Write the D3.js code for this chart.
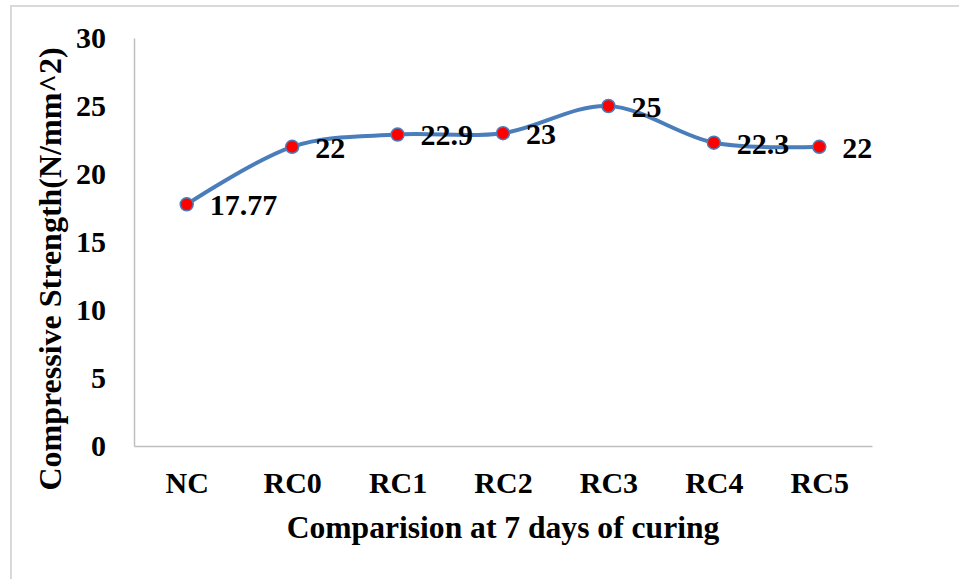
<!DOCTYPE html>
<html>
<head>
<meta charset="utf-8">
<title>Comparision at 7 days of curing</title>
<script src="https://cdn.jsdelivr.net/npm/d3@7"></script>
<style>
  body { margin: 0; background: #fff; }
  svg text { font-family: "Liberation Serif", "Times New Roman", serif; font-weight: 700; fill: #000; }
</style>
</head>
<body>
<svg id="chart" width="959" height="579"></svg>
<script>
  // chart values
  const categories = ["NC", "RC0", "RC1", "RC2", "RC3", "RC4", "RC5"];
  const strength = [17.77, 22, 22.9, 23, 25, 22.3, 22];
  const yTicks = [0, 5, 10, 15, 20, 25, 30];

  const svg = d3.select("#chart");
  const margin = { top: 38, right: 87, bottom: 133, left: 134 };
  const width = +svg.attr("width") - margin.left - margin.right,
    height = +svg.attr("height") - margin.top - margin.bottom;

  // outer chart frame
  svg.append("rect")
    .attr("x", 11).attr("y", 6)
    .attr("width", 980).attr("height", 600)
    .attr("fill", "none")
    .attr("stroke", "#d9d9d9")
    .attr("stroke-width", 2);

  const g = svg.append("g").attr("transform", `translate(${margin.left}, ${margin.top})`);

  const x = d3.scalePoint()
    .domain(categories)
    .range([0, width])
    .padding(0.5);

  const y = d3.scaleLinear()
    .domain([0, 30])
    .range([height, 0]);

  // y axis
  const yAxis = g.append("g")
    .call(d3.axisLeft(y).tickValues(yTicks).tickSize(0).tickPadding(28));
  yAxis.attr("font-family", null);
  yAxis.select(".domain").attr("stroke", "#bfbfbf").attr("stroke-width", 1.5);
  yAxis.selectAll(".tick text")
    .attr("font-size", 30)
    .attr("dy", "0.33em");

  // x axis
  const xAxis = g.append("g")
    .attr("transform", `translate(0, ${height})`)
    .call(d3.axisBottom(x).tickSize(0).tickPadding(26));
  xAxis.attr("font-family", null);
  xAxis.select(".domain").attr("stroke", "#bfbfbf").attr("stroke-width", 1.5);
  xAxis.selectAll(".tick text")
    .attr("font-size", 30)
    .attr("dy", "0.71em");

  // axis titles
  g.append("text")
    .attr("x", width / 2)
    .attr("y", height + 92)
    .attr("text-anchor", "middle")
    .attr("font-size", 31.6)
    .text("Comparision at 7 days of curing");

  svg.append("text")
    .attr("transform", "translate(61, 269) rotate(-90)")
    .attr("text-anchor", "middle")
    .attr("font-size", 32)
    .text("Compressive Strength(N/mm^2)");

  const data = categories.map((c, i) => ({ cat: c, val: strength[i] }));

  const line = d3.line()
    .x(d => x(d.cat))
    .y(d => y(d.val))
    .curve(d3.curveCatmullRom.alpha(0));

  g.append("path")
    .datum(data)
    .attr("fill", "none")
    .attr("stroke", "#4a7ebb")
    .attr("stroke-width", 4)
    .attr("d", line);

  g.selectAll(".dot")
    .data(data)
    .enter().append("circle")
    .attr("class", "dot")
    .attr("cx", d => x(d.cat))
    .attr("cy", d => y(d.val))
    .attr("r", 6.5)
    .attr("fill", "#ff0000")
    .attr("stroke", "#4a7ebb")
    .attr("stroke-width", 1.5);

  g.selectAll(".label")
    .data(data)
    .enter().append("text")
    .attr("class", "label")
    .attr("x", d => x(d.cat) + 23)
    .attr("y", d => y(d.val))
    .attr("dy", "0.36em")
    .attr("font-size", 30)
    .text(d => String(d.val));
</script>
</body>
</html>
